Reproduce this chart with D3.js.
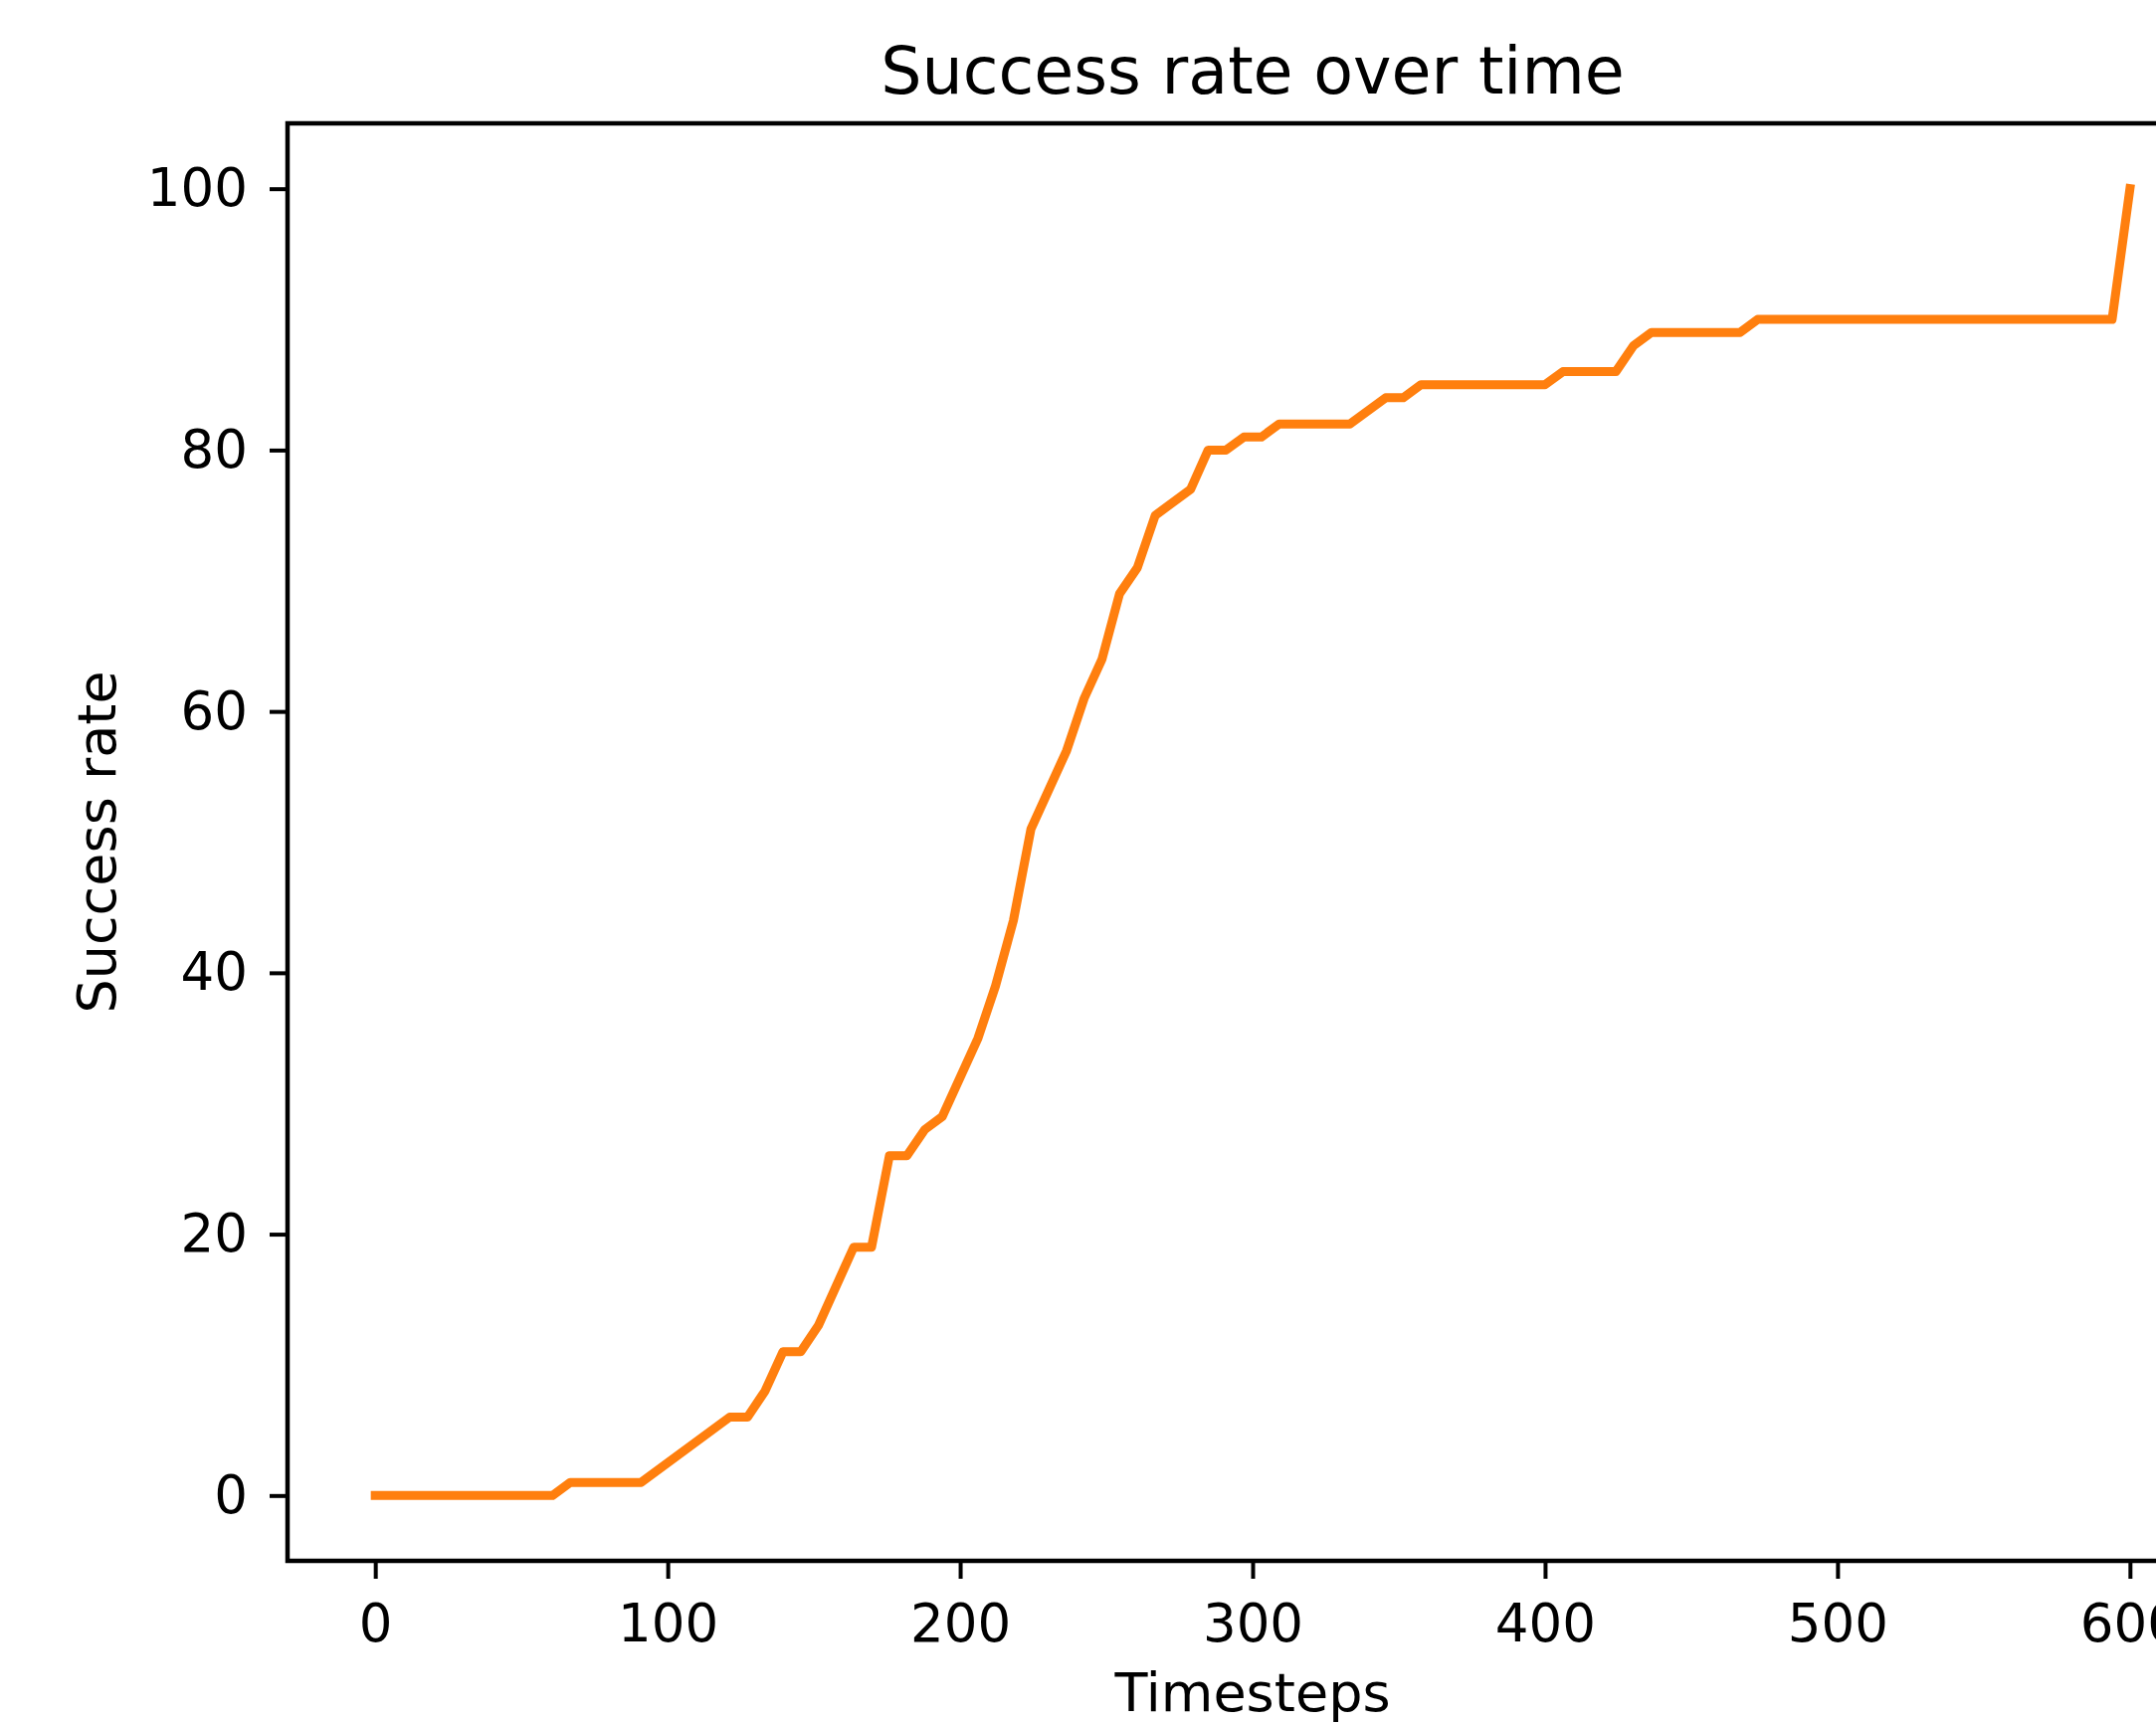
<!DOCTYPE html>
<html>
<head>
<meta charset="utf-8">
<script src="https://cdn.jsdelivr.net/npm/d3@7"></script>
<style>
  html, body { margin: 0; padding: 0; background: #fff; }
  svg { display: block; font-family: "DejaVu Sans", sans-serif; }
</style>
</head>
<body>
<svg id="chart" width="2167" height="1732"></svg>
<script>
// vertices of the success-rate curve
var timesteps = [0, 60.6, 66.7, 90.9, 121.2, 127.3, 133.3, 139.4, 145.5, 151.5,
  163.6, 169.7, 175.8, 181.8, 187.9, 193.9, 206.1, 212.1, 218.2, 224.2,
  236.4, 242.4, 248.5, 254.5, 260.6, 266.7, 278.8, 284.8, 290.9, 297,
  303, 309.1, 333.3, 345.5, 351.5, 357.6, 400, 406.1, 424.2, 430.3,
  436.4, 466.7, 472.7, 593.9, 600];
var successRate = [0, 0, 1, 1, 6, 6, 8, 11, 11, 13,
  19, 19, 26, 26, 28, 29, 35, 39, 44, 51,
  57, 61, 64, 69, 71, 75, 77, 80, 80, 81,
  81, 82, 82, 84, 84, 85, 85, 86, 86, 88,
  89, 89, 90, 90, 100];
var xTicks = [0, 100, 200, 300, 400, 500, 600];
var yTicks = [0, 20, 40, 60, 80, 100];

function drawChart(svgId) {
	const svg = d3.select(svgId);
	svg.selectAll("*").remove();

	// axes box (right edge runs past the picture, as in the original)
	const box = { left: 289, top: 124, right: 2229, bottom: 1569 };

	let xScale = d3.scaleLinear().domain([-30, 630]).range([box.left, box.right]);
	let yScale = d3.scaleLinear().domain([-5, 105]).range([box.bottom, box.top]);

	let data = timesteps.map(function (t, i) { return { x: t, y: successRate[i] }; });

	let line = d3.line()
		.x(function (d) { return xScale(d.x) })
		.y(function (d) { return yScale(d.y) });

	// chart line
	svg.append("path")
		.datum(data)
		.attr("fill", "none")
		.attr("stroke", "#ff7f0e")
		.attr("stroke-width", 9)
		.attr("stroke-linejoin", "round")
		.attr("stroke-linecap", "square")
		.attr("d", line);

	// x axis
	const gx = svg.append("g")
		.attr("transform", "translate(0," + box.bottom + ")")
		.call(d3.axisBottom(xScale).tickValues(xTicks).tickSize(18).tickPadding(25).tickSizeOuter(0));
	// y axis
	const gy = svg.append("g")
		.attr("transform", "translate(" + box.left + ",0)")
		.call(d3.axisLeft(yScale).tickValues(yTicks).tickSize(18).tickPadding(22).tickSizeOuter(0));

	[gx, gy].forEach(function (g) {
		g.select(".domain").remove();
		g.selectAll(".tick line").attr("stroke", "#000").attr("stroke-width", 4);
		g.selectAll(".tick text")
			.attr("fill", "#000")
			.attr("font-family", "DejaVu Sans")
			.attr("font-size", 53);
	});

	// frame
	svg.append("rect")
		.attr("x", box.left)
		.attr("y", box.top)
		.attr("width", box.right - box.left)
		.attr("height", box.bottom - box.top)
		.attr("fill", "none")
		.attr("stroke", "#000")
		.attr("stroke-width", 4.5);

	const cx = (box.left + box.right) / 2;

	svg.append("text")
		.attr("x", cx).attr("y", 94)
		.attr("text-anchor", "middle")
		.attr("font-size", 65)
		.text("Success rate over time");

	svg.append("text")
		.attr("x", cx).attr("y", 1720)
		.attr("text-anchor", "middle")
		.attr("font-size", 54)
		.text("Timesteps");

	svg.append("text")
		.attr("transform", "translate(116," + (box.top + box.bottom) / 2 + ") rotate(-90)")
		.attr("text-anchor", "middle")
		.attr("font-size", 54)
		.text("Success rate");
}

drawChart("#chart");
</script>
</body>
</html>
